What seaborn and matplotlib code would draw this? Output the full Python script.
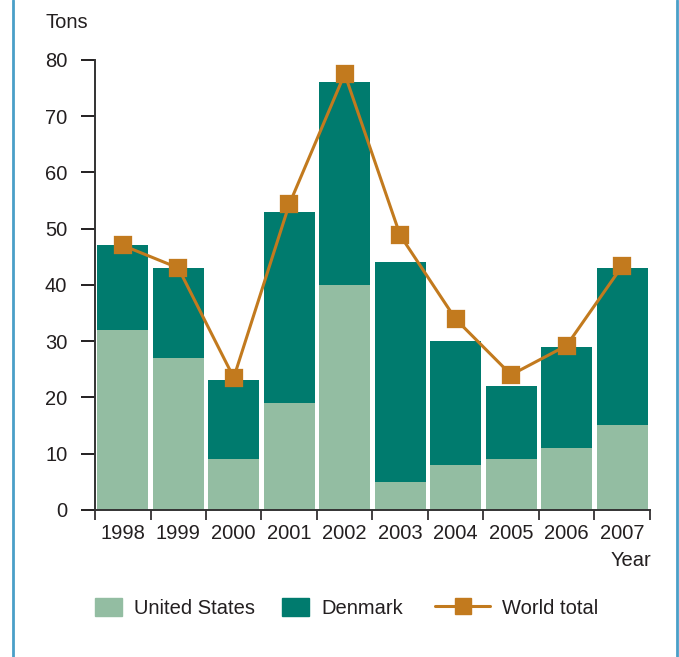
import matplotlib
matplotlib.use("Agg")
import matplotlib.pyplot as plt
import matplotlib.patches as mpatches
import matplotlib.lines as mlines
import seaborn as sns
import pandas as pd
import numpy as np

# Data (tons)
years = ["1998", "1999", "2000", "2001", "2002", "2003", "2004", "2005", "2006", "2007"]
united_states = [32, 27, 9, 19, 40, 5, 8, 9, 11, 15]
denmark = [15, 16, 14, 34, 36, 39, 22, 13, 18, 28]
world_total = [47, 43, 23.5, 54.3, 77.5, 48.8, 33.9, 24, 29.2, 43.3]

US_COLOR = "#93bda2"
DK_COLOR = "#007b6e"
WORLD_COLOR = "#c27a1e"
TEXT_COLOR = "#231f20"
FS = 14.5

sns.set_style("white")
plt.rcParams["font.family"] = ["Liberation Sans", "DejaVu Sans"]
plt.rcParams["text.color"] = TEXT_COLOR
plt.rcParams["axes.labelcolor"] = TEXT_COLOR
plt.rcParams["xtick.color"] = TEXT_COLOR
plt.rcParams["ytick.color"] = TEXT_COLOR

df = pd.DataFrame({
    "Year": years,
    "United States": united_states,
    "Denmark": denmark,
    "World total": world_total,
})
df["Stack"] = df["United States"] + df["Denmark"]


def plot_chart(df):
    fig = plt.figure(figsize=(6.79, 6.57), dpi=100)
    ax = fig.add_axes([0.140, 0.224, 0.817, 0.685])

    # stacked bars: full stack in Denmark colour, US drawn on top
    sns.barplot(data=df, x="Year", y="Stack", color=DK_COLOR, width=0.92,
                saturation=1, linewidth=0, ax=ax)
    sns.barplot(data=df, x="Year", y="United States", color=US_COLOR, width=0.92,
                saturation=1, linewidth=0, ax=ax)
    sns.pointplot(data=df, x="Year", y="World total", color=WORLD_COLOR,
                  markers="s", markersize=12, linewidth=2.2, ax=ax)

    ax.set_xlim(-0.5, len(df) - 0.5)
    ax.set_ylim(0, 80)
    ax.set_yticks(range(0, 81, 10))
    ax.set_xlabel("")
    ax.set_ylabel("")

    for side in ["top", "right"]:
        ax.spines[side].set_visible(False)
    for side in ["left", "bottom"]:
        ax.spines[side].set_linewidth(1.4)
        ax.spines[side].set_color("#333333")

    ax.tick_params(axis="y", length=10, width=1.4, pad=10, labelsize=FS, left=True)
    ax.tick_params(axis="x", which="major", length=0, pad=10, labelsize=FS)
    ax.set_xticks(np.arange(-0.5, len(df), 1.0), minor=True)
    ax.tick_params(axis="x", which="minor", length=7, width=1.2, bottom=True)

    fig.text(45 / 679, 1 - 23 / 657, "Tons", fontsize=FS, va="center", ha="left")
    fig.text(651 / 679, 1 - 560 / 657, "Year", fontsize=FS, va="center", ha="right")

    # legend: one entry per legend so each handle can have its own length
    entries = [
        (mpatches.Patch(color=US_COLOR, label="United States"), 95, 1.35),
        (mpatches.Patch(color=DK_COLOR, label="Denmark"), 282, 1.35),
        (mlines.Line2D([], [], color=WORLD_COLOR, lw=2.2, marker="s", markersize=12,
                       label="World total"), 435, 2.75),
    ]
    for handle, xpix, hlen in entries:
        fig.legend(handles=[handle], loc="center left",
                   bbox_to_anchor=(xpix / 679, 1 - 608 / 657), frameon=False,
                   fontsize=FS, handlelength=hlen, handleheight=1.0,
                   handletextpad=0.6, borderpad=0, borderaxespad=0)

    # thin blue frame lines on left and right
    for xpos in [13 / 679, 677 / 679]:
        fig.add_artist(mlines.Line2D([xpos, xpos], [0, 1], color="#4a9fc8", lw=2,
                                     transform=fig.transFigure))

    fig.savefig("out.png", dpi=100)


if __name__ == "__main__":
    plot_chart(df)
